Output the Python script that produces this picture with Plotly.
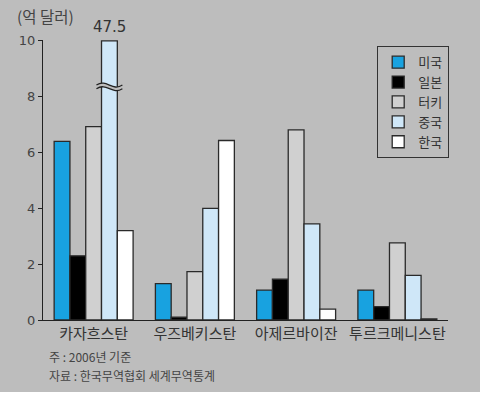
import plotly.graph_objects as go

countries = ["카자흐스탄", "우즈베키스탄", "아제르바이잔", "투르크메니스탄"]
series_names = ["미국", "일본", "터키", "중국", "한국"]
usa = [6.4, 1.3, 1.07, 1.07]
japan = [2.3, 0.1, 1.46, 0.48]
turkey = [6.93, 1.73, 6.81, 2.76]
china = [47.5, 4.0, 3.44, 1.6]
korea = [3.2, 6.43, 0.39, 0.04]
colors = ["#18a2e0", "#000000", "#d0d0d0", "#cfe7f8", "#ffffff"]
y_ticks = [0, 2, 4, 6, 8, 10]
y_max = 10
break_at = 8.35

BG = "#bdbdbd"
FONT = "Noto Sans CJK KR"
W, H = 480, 398
ML, MR, MT, MB = 43, 32, 40, 78
bargap = 0.22

all_series = [usa, japan, turkey, china, korea]
x = list(range(len(countries)))

fig = go.Figure()
for name, vals, col in zip(series_names, all_series, colors):
    fig.add_trace(go.Bar(
        x=x, y=[min(v, y_max) for v in vals], name=name,
        marker=dict(color=col, line=dict(color="#2a2a2a", width=1.3)),
    ))

# broken bar (China in first group)
n = len(all_series)
bw = (1 - bargap) / n
ci = series_names.index("중국")
cx = x[0] - (1 - bargap) / 2 + bw * (ci + 0.5)
half = bw / 2 + 0.05
amp = 0.11
gap = 0.13
L, R = cx - half, cx + half
def curve(y0):
    return f"M{L},{y0} C{L + (R-L)*0.4},{y0 + 2.2*amp} {L + (R-L)*0.6},{y0 - 2.2*amp} {R},{y0}"
top = break_at + gap / 2
bot = break_at - gap / 2
fill_path = (f"M{L},{top} C{L + (R-L)*0.4},{top + 2.2*amp} {L + (R-L)*0.6},{top - 2.2*amp} {R},{top} "
             f"L{R},{bot} C{L + (R-L)*0.6},{bot - 2.2*amp} {L + (R-L)*0.4},{bot + 2.2*amp} {L},{bot} Z")
fig.add_shape(type="path", path=fill_path, xref="x", yref="y", fillcolor=BG, line=dict(width=0), layer="above")
fig.add_shape(type="path", path=curve(top), xref="x", yref="y", line=dict(color="#222", width=1.3), layer="above")
fig.add_shape(type="path", path=curve(bot), xref="x", yref="y", line=dict(color="#222", width=1.3), layer="above")

fig.add_annotation(x=cx, y=y_max, text=str(china[0]), showarrow=False, yanchor="bottom",
                   yshift=3, font=dict(family="DejaVu Sans", size=15, color="#333"))

ph = H - MT - MB
pw = W - ML - MR
fig.add_annotation(xref="paper", yref="paper", x=-(ML - 15) / pw, y=1 + 11 / ph,
                   text="(억 달러)", showarrow=False, xanchor="left", yanchor="bottom",
                   font=dict(family=FONT, size=15.5, color="#444"))
fig.add_annotation(xref="paper", yref="paper", x=(47 - ML) / pw, y=-(356 - (H - MB)) / ph,
                   text="주 : 2006년 기준", showarrow=False, xanchor="left", yanchor="middle",
                   font=dict(family=FONT, size=12, color="#444"))
fig.add_annotation(xref="paper", yref="paper", x=(47 - ML) / pw, y=-(375 - (H - MB)) / ph,
                   text="자료 : 한국무역협회 세계무역통계", showarrow=False, xanchor="left", yanchor="middle",
                   font=dict(family=FONT, size=12, color="#444"))

# white strip at bottom
fig.add_shape(type="rect", xref="paper", yref="paper", x0=-1, x1=2,
              y0=-(H - (H - MB)) / ph - 0.05, y1=-(392 - (H - MB)) / ph,
              fillcolor="white", line=dict(width=0), layer="below")

fig.update_layout(
    width=W, height=H, margin=dict(l=ML, r=MR, t=MT, b=MB),
    paper_bgcolor=BG, plot_bgcolor=BG,
    barmode="group", bargap=bargap, bargroupgap=0,
    font=dict(family=FONT, color="#333"),
    legend=dict(x=(377 - ML) / pw, y=1 - 6 / ph, xanchor="left", yanchor="top",
                bgcolor=BG, bordercolor="#333", borderwidth=1.2,
                font=dict(family=FONT, size=13, color="#333"), tracegroupgap=0,
                itemwidth=30),
    showlegend=True,
)
fig.update_xaxes(tickvals=x, ticktext=countries, range=[-0.5, len(countries) - 0.5],
                 showline=True, linecolor="#222", linewidth=1.2, ticks="", showgrid=False,
                 tickfont=dict(family=FONT, size=15, color="#333"), zeroline=False)
fig.update_yaxes(range=[0, y_max + 0.03], tickvals=y_ticks, ticktext=[str(t) for t in y_ticks],
                 showline=True, linecolor="#222", linewidth=1.2, ticks="outside", ticklen=4,
                 tickcolor="#222", showgrid=False, zeroline=False,
                 tickfont=dict(family="DejaVu Sans", size=13, color="#444"))

fig.write_html("out.html")
